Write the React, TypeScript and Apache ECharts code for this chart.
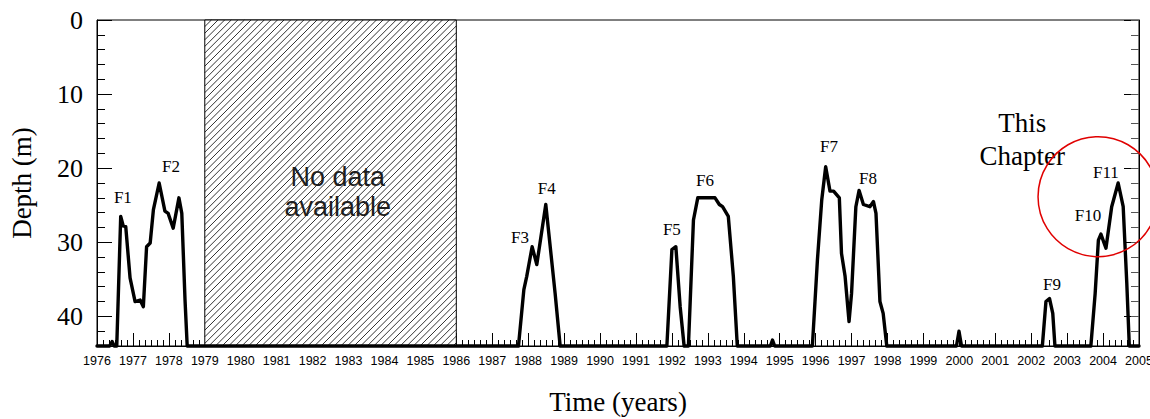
import React, { useEffect, useRef } from "react";
import * as echarts from "echarts";

// Time series of depth (m) vs time (years)
const years = [
  1976.0, 1976.35, 1976.42, 1976.48, 1976.55, 1976.66, 1976.73, 1976.8, 1976.92, 1977.06,
  1977.2, 1977.29, 1977.38, 1977.48, 1977.57, 1977.73, 1977.89, 1977.98, 1978.12, 1978.28,
  1978.36, 1978.45, 1978.51, 1987.73, 1987.88, 1987.96, 1988.11, 1988.24, 1988.49, 1988.75,
  1988.89, 1991.86, 1992.0, 1992.11, 1992.23, 1992.34, 1992.46, 1992.6, 1992.72, 1993.2,
  1993.32, 1993.41, 1993.57, 1993.71, 1993.82, 1994.74, 1994.8, 1994.86, 1995.91, 1996.05,
  1996.17, 1996.28, 1996.4, 1996.5, 1996.66, 1996.72, 1996.82, 1996.93, 1997.0, 1997.12,
  1997.21, 1997.33, 1997.51, 1997.61, 1997.68, 1997.79, 1997.88, 1997.98, 1999.92, 1999.99,
  2000.06, 2002.31, 2002.41, 2002.51, 2002.6, 2002.66, 2003.66, 2003.78, 2003.87, 2003.94,
  2004.08, 2004.24, 2004.42, 2004.56, 2004.66, 2004.73, 2005.0,
];
const depths = [
  44, 44, 43.4, 44, 44, 26.5, 27.8, 27.9, 34.8, 38.0,
  37.8, 38.7, 30.6, 30.1, 25.6, 22.0, 25.8, 26.1, 28.1, 24.0,
  26.1, 37.8, 44, 44, 36.4, 34.6, 30.6, 33.0, 24.9, 36.9,
  44, 44, 31.0, 30.6, 38.7, 44, 44, 27.0, 24.0, 24.0,
  24.9, 25.2, 26.5, 34.6, 44, 44, 43.2, 44, 44, 32.4,
  24.3, 19.8, 23.1, 23.1, 24.0, 31.5, 34.6, 40.7, 36.9, 25.2,
  23.0, 24.9, 25.2, 24.5, 26.1, 38.0, 39.6, 44, 44, 42.0,
  44, 44, 38.0, 37.6, 39.6, 44, 44, 36.9, 29.7, 28.9,
  30.8, 25.2, 22.0, 25.2, 35.5, 44, 44,
];

// Event labels
const eventNames = ["F1", "F2", "F3", "F4", "F5", "F6", "F7", "F8", "F9", "F10", "F11"];
const eventYears = [1976.72, 1978.06, 1987.77, 1988.52, 1992.0, 1992.92, 1996.37, 1997.46, 2002.58, 2003.58, 2004.08];
const eventDepths = [24.0, 19.8, 29.4, 22.8, 28.3, 21.6, 17.1, 21.4, 35.7, 26.4, 20.6];

// No-data gap
const gapRange = [1979, 1986];
const gapText = "No data\navailable";
const gapTextPos = [1982.7, 23.2];

// Annotation
const chapterText = "This\nChapter";
const chapterPos = [2001.75, 16.1];
const circleCenter = [2003.86, 23.85];
const circleRadiusYears = 1.67;

// Axes
const xMin = 1976;
const xMax = 2005;
const yMin = 0;
const yMax = 44;

const SERIF = "Liberation Serif";
const SANS = "Liberation Sans";

export default function App() {
  const ref = useRef<HTMLDivElement>(null);

  useEffect(() => {
    if (!ref.current) return;
    const chart = echarts.init(ref.current, null, { renderer: "svg" });

    const baseY = (extra: any) => ({
      type: "value",
      inverse: true,
      min: yMin,
      max: yMax,
      splitLine: { show: false },
      ...extra,
    });

    chart.setOption({
      animation: false,
      backgroundColor: "#fff",
      grid: {
        left: 97,
        right: 11,
        top: 20,
        bottom: 73,
        show: true,
        borderColor: "#000",
        borderWidth: 1,
        backgroundColor: "transparent",
        containLabel: false,
        outerBoundsMode: "none",
      },
      xAxis: [
        {
          type: "value",
          min: xMin,
          max: xMax,
          interval: 1,
          splitLine: { show: false },
          axisLine: { show: true, onZero: false, lineStyle: { color: "#000", width: 1 } },
          axisTick: { show: true, inside: true, length: 13, lineStyle: { color: "#000", width: 1 } },
          minorTick: { show: true, splitNumber: 6, length: 6, lineStyle: { color: "#000", width: 1 } },
          axisLabel: {
            fontFamily: SANS,
            fontSize: 12.5,
            color: "#000",
            margin: 8,
            hideOverlap: false,
            formatter: (v: number) => String(v),
          },
          name: "Time (years)",
          nameLocation: "middle",
          nameGap: 42,
          nameTextStyle: { fontFamily: SERIF, fontSize: 27, color: "#000" },
        },
      ],
      yAxis: [
        baseY({
          position: "left",
          interval: 10,
          axisLine: { show: true, onZero: false, lineStyle: { color: "#000", width: 1 } },
          axisTick: { show: true, inside: true, length: 15, lineStyle: { color: "#000", width: 1 } },
          axisLabel: {
            fontFamily: SERIF,
            fontSize: 26,
            color: "#000",
            margin: 14,
            showMaxLabel: false,
            formatter: (v: number) => (v % 10 === 0 ? String(v) : ""),
          },
          name: "Depth (m)",
          nameLocation: "middle",
          nameGap: 62,
          nameTextStyle: { fontFamily: SERIF, fontSize: 27, color: "#000" },
        }),
        baseY({
          position: "left",
          interval: 2,
          axisLine: { show: false },
          axisTick: { show: true, inside: true, length: 8, lineStyle: { color: "#000", width: 1 } },
          axisLabel: { show: false },
        }),
        baseY({
          position: "right",
          interval: 10,
          axisLine: { show: true, onZero: false, lineStyle: { color: "#000", width: 1 } },
          axisTick: { show: true, inside: true, length: 15, lineStyle: { color: "#000", width: 1 } },
          axisLabel: { show: false },
        }),
        baseY({
          position: "right",
          interval: 2,
          axisLine: { show: false },
          axisTick: { show: true, inside: true, length: 8, lineStyle: { color: "#555", width: 1 } },
          axisLabel: { show: false },
        }),
      ],
      series: [
        {
          type: "custom",
          name: "gap",
          xAxisIndex: 0,
          yAxisIndex: 0,
          z: 1,
          silent: true,
          data: [[gapRange[0], gapRange[1], yMin, yMax]],
          encode: { x: [0, 1], y: [2, 3] },
          renderItem: (params: any, api: any) => {
            const p0 = api.coord([api.value(0), api.value(2)]);
            const p1 = api.coord([api.value(1), api.value(3)]);
            const x0 = Math.min(p0[0], p1[0]);
            const x1 = Math.max(p0[0], p1[0]);
            const y0 = Math.min(p0[1], p1[1]);
            const y1 = Math.max(p0[1], p1[1]);
            const children: any[] = [
              {
                type: "rect",
                shape: { x: x0, y: y0, width: x1 - x0, height: y1 - y0 },
                style: { fill: "#fff", stroke: "none" },
              },
            ];
            const step = 6.6;
            for (let c = x0 + y0 + step; c < x1 + y1; c += step) {
              const xa = Math.max(x0, c - y1);
              const xb = Math.min(x1, c - y0);
              if (xb <= xa) continue;
              children.push({
                type: "line",
                shape: { x1: xa, y1: c - xa, x2: xb, y2: c - xb },
                style: { stroke: "#333", lineWidth: 1 },
              });
            }
            children.push({
              type: "rect",
              shape: { x: x0, y: y0, width: x1 - x0, height: y1 - y0 },
              style: { fill: "none", stroke: "#000", lineWidth: 1 },
            });
            return { type: "group", children };
          },
        },
        {
          type: "line",
          name: "depth",
          xAxisIndex: 0,
          yAxisIndex: 0,
          z: 3,
          clip: false,
          showSymbol: false,
          symbol: "none",
          data: years.map((y, i) => [y, depths[i]]),
          lineStyle: { color: "#000", width: 3.4, join: "round", cap: "round" },
        },
        {
          type: "custom",
          name: "labels",
          xAxisIndex: 0,
          yAxisIndex: 0,
          z: 4,
          silent: true,
          data: eventNames.map((n, i) => [eventYears[i], eventDepths[i], i]),
          renderItem: (params: any, api: any) => {
            const p = api.coord([api.value(0), api.value(1)]);
            return {
              type: "text",
              x: p[0],
              y: p[1],
              style: {
                text: eventNames[api.value(2)],
                fontFamily: SERIF,
                fontSize: 17,
                fill: "#000",
                align: "center",
                verticalAlign: "middle",
              },
            };
          },
        },
        {
          type: "custom",
          name: "gapText",
          xAxisIndex: 0,
          yAxisIndex: 0,
          z: 4,
          silent: true,
          data: [[gapTextPos[0], gapTextPos[1]]],
          renderItem: (params: any, api: any) => {
            const p = api.coord([api.value(0), api.value(1)]);
            return {
              type: "text",
              x: p[0],
              y: p[1],
              style: {
                text: gapText,
                fontFamily: SANS,
                fontSize: 27,
                lineHeight: 30,
                fill: "#1e1e1e",
                align: "center",
                verticalAlign: "middle",
              },
            };
          },
        },
        {
          type: "custom",
          name: "chapter",
          xAxisIndex: 0,
          yAxisIndex: 0,
          z: 4,
          silent: true,
          data: [[chapterPos[0], chapterPos[1]]],
          renderItem: (params: any, api: any) => {
            const p = api.coord([api.value(0), api.value(1)]);
            return {
              type: "text",
              x: p[0],
              y: p[1],
              style: {
                text: chapterText,
                fontFamily: SERIF,
                fontSize: 27,
                lineHeight: 33,
                fill: "#000",
                align: "center",
                verticalAlign: "middle",
              },
            };
          },
        },
        {
          type: "custom",
          name: "circle",
          xAxisIndex: 0,
          yAxisIndex: 0,
          z: 5,
          silent: true,
          clip: false,
          data: [[circleCenter[0], circleCenter[1], circleRadiusYears]],
          renderItem: (params: any, api: any) => {
            const p = api.coord([api.value(0), api.value(1)]);
            const r = api.size([api.value(2), 0])[0];
            return {
              type: "circle",
              shape: { cx: p[0], cy: p[1], r },
              style: { fill: "none", stroke: "#e00000", lineWidth: 1.5 },
            };
          },
        },
      ],
    });

    return () => {
      chart.dispose();
    };
  }, []);

  return (
    <div
      ref={ref}
      style={{ position: "fixed", left: 0, top: 0, width: 1150, height: 419, background: "#fff" }}
    />
  );
}
